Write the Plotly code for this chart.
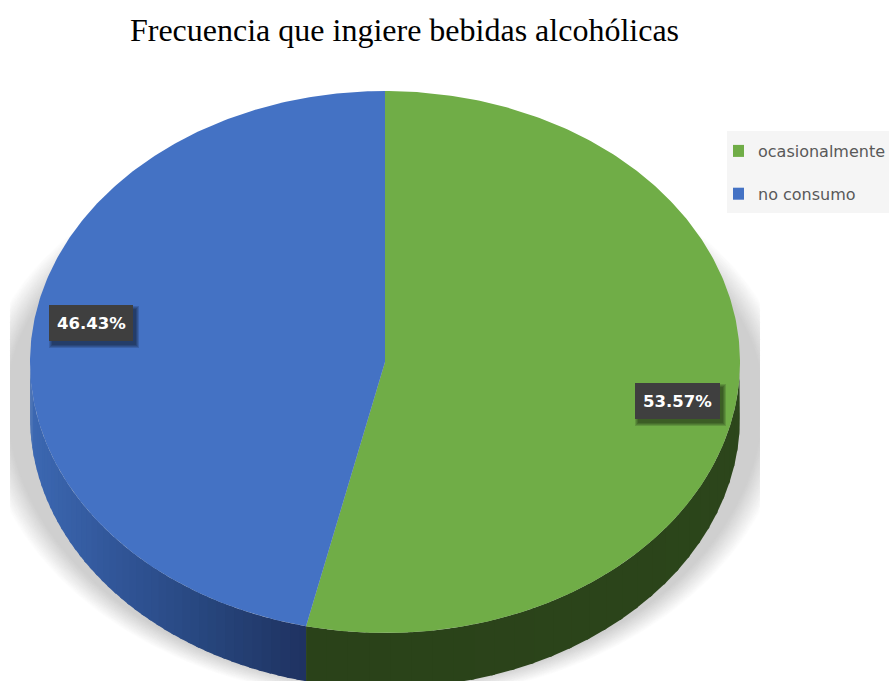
import numpy as np
import plotly.graph_objects as go

categories = ["ocasionalmente", "no consumo"]
values = [53.57, 46.43]
top_colors = ["#70ad47", "#4472c4"]
title_text = "Frecuencia que ingiere bebidas alcohólicas"

W, H = 889, 681
CX, CY, RX, RY, DEPTH = 385, 362, 355, 271, 55
SHADOW_CLIP = (10, 760)


def ell(theta, cy=CY, rx=RX, ry=RY):
    # theta in radians, clockwise from 12 o'clock
    return CX + rx * np.sin(theta), cy - ry * np.cos(theta)


def mix(c1, c2, t):
    return "rgb(" + ",".join(str(int(round(a + (b - a) * t))) for a, b in zip(c1, c2)) + ")"


fig = go.Figure()

# soft shadow below the disc, clipped to its rectangle
layers = 36
for i in range(layers):
    t = i / (layers - 1)
    th = np.linspace(0, 2 * np.pi, 300)
    rx = 405 - 27 * t
    r_top = 265 - 25 * t
    r_bot = 301 - 16 * t
    sx = CX + rx * np.sin(th)
    sy = 400 - np.where(np.cos(th) > 0, r_top, r_bot) * np.cos(th)
    fig.add_trace(go.Scatter(
        x=np.clip(sx, *SHADOW_CLIP), y=np.minimum(sy, H), mode="lines", fill="toself",
        line=dict(width=0), fillcolor=mix((255, 255, 255), (207, 207, 207), t),
        showlegend=False, hoverinfo="skip"))

total = sum(values)
boundary = 2 * np.pi * values[0] / total

# side wall: green part
side_green = [(44, 70, 27), (42, 66, 25)]
n = 30
edges = np.linspace(np.pi / 2, boundary, n + 1)
for i in range(n):
    th = np.linspace(edges[i], min(edges[i + 1] + 0.01, boundary), 8)
    x1, y1 = ell(th)
    x2, y2 = ell(th[::-1], cy=CY + DEPTH)
    fig.add_trace(go.Scatter(
        x=np.r_[x1, x2], y=np.r_[y1, y2], mode="lines", fill="toself",
        line=dict(width=0), fillcolor=mix(side_green[0], side_green[1], i / (n - 1)),
        showlegend=False, hoverinfo="skip"))

# side wall: blue part, darkening towards the seam
side_blue = [(31, 49, 96), (38, 68, 122), (48, 84, 150), (60, 104, 178)]
n = 48
edges = np.linspace(boundary, 1.5 * np.pi, n + 1)
for i in range(n):
    th = np.linspace(max(edges[i] - 0.01, boundary), edges[i + 1], 8)
    x1, y1 = ell(th)
    x2, y2 = ell(th[::-1], cy=CY + DEPTH)
    frac = (np.mean(x1) - 307) / (31 - 307)
    pos = np.clip(frac, 0, 1) * (len(side_blue) - 1)
    k = min(int(pos), len(side_blue) - 2)
    fig.add_trace(go.Scatter(
        x=np.r_[x1, x2], y=np.r_[y1, y2], mode="lines", fill="toself",
        line=dict(width=0), fillcolor=mix(side_blue[k], side_blue[k + 1], pos - k),
        showlegend=False, hoverinfo="skip"))

# top face wedges, built from the values
start = 0.0
for name, v, col in zip(categories, values, top_colors):
    end = start + 2 * np.pi * v / total
    th = np.linspace(start, end, 300)
    x, y = ell(th)
    fig.add_trace(go.Scatter(
        x=np.r_[CX, x, CX], y=np.r_[CY, y, CY], mode="lines", fill="toself",
        line=dict(width=0), fillcolor=col, name=name,
        showlegend=False, hoverinfo="name"))
    start = end

# legend entries
for name, col in zip(categories, top_colors):
    fig.add_trace(go.Scatter(
        x=[None], y=[None], mode="markers", name=name, legendgroup=name,
        marker=dict(symbol="square", size=12, color=col)))

shapes = [dict(type="rect", x0=727, x1=889, y0=131, y1=213,
               fillcolor="#f5f5f5", line=dict(width=0), layer="below")]

# data label boxes with drop shadow
boxes = [(635, 720, 383, 419), (49, 133, 305, 341)]
annotations = []
for (x0, x1, y0, y1), v in zip(boxes, values):
    for g in range(3, -1, -1):
        shapes.append(dict(type="rect", x0=x0 + 3 - g, x1=x1 + 3 + g, y0=y0 + 4 - g, y1=y1 + 4 + g,
                           fillcolor="rgba(0,0,0,0.14)", line=dict(width=0), layer="above"))
    shapes.append(dict(type="rect", x0=x0, x1=x1, y0=y0, y1=y1,
                       fillcolor="#3f3f3f", line=dict(width=0), layer="above"))
    annotations.append(dict(
        x=(x0 + x1) / 2, y=(y0 + y1) / 2, xref="x", yref="y", showarrow=False,
        text=f"<b>{v:.2f}%</b>", font=dict(family="DejaVu Sans", size=16.5, color="#ffffff")))

fig.update_layout(
    width=W, height=H, margin=dict(l=0, r=0, t=0, b=0, autoexpand=False),
    paper_bgcolor="#ffffff", plot_bgcolor="rgba(0,0,0,0)",
    xaxis=dict(range=[0, W], visible=False, fixedrange=True),
    yaxis=dict(range=[H, 0], visible=False, fixedrange=True),
    title=dict(text=title_text, x=404.5 / W, xanchor="center", y=1 - 30 / H, yanchor="middle",
               font=dict(family="Liberation Serif", size=32, color="#000000")),
    legend=dict(x=733 / W, xanchor="left", y=1 - 134 / H, yanchor="top",
                bgcolor="rgba(0,0,0,0)", font=dict(family="DejaVu Sans", size=16, color="#595959"),
                tracegroupgap=19, indentation=-15, itemclick=False, itemdoubleclick=False),
    shapes=shapes, annotations=annotations,
)

fig.write_html("out.html", post_script="document.body.style.margin='0';", config=dict(displayModeBar=False))
